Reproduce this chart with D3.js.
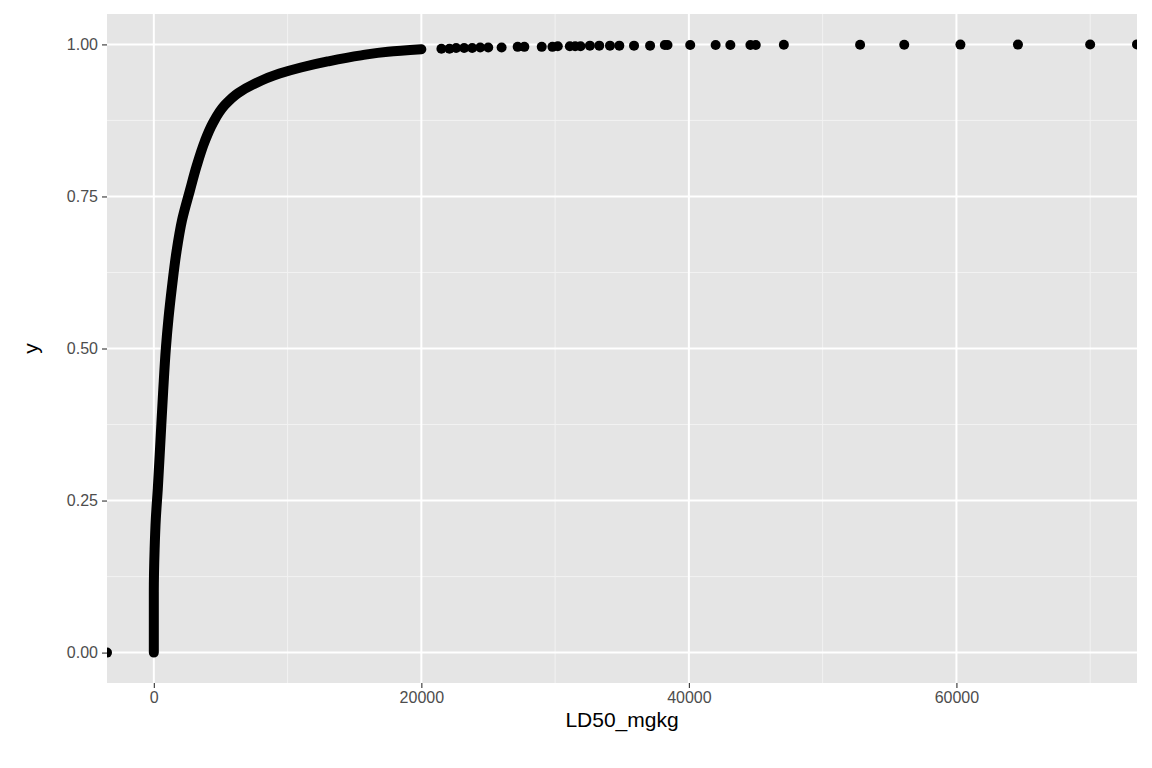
<!DOCTYPE html>
<html><head><meta charset="utf-8">
<script src="https://cdn.jsdelivr.net/npm/d3@7"></script>
<style>body{margin:0;background:#fff}</style></head>
<body><svg id="c" width="1152" height="768"></svg>
<script>
const curveX = [0, 0, 60, 150, 300, 500, 700, 900, 1100, 1350, 1700, 2100, 2700, 3200, 3800, 4400, 5300, 6300, 7500, 9400, 11000, 13000, 15500, 17500, 20000];
const curveY = [0, 0.10, 0.17, 0.22, 0.27, 0.35, 0.43, 0.50, 0.55, 0.60, 0.66, 0.71, 0.76, 0.80, 0.84, 0.87, 0.90, 0.92, 0.935, 0.952, 0.962, 0.972, 0.982, 0.988, 0.992];
// Sparse tail points
const tailX = [-3500, 21500, 22100, 22600, 23200, 23800, 24400, 25000, 26000, 27200, 27700, 29000, 29800, 30200, 31100, 31500, 31900, 32600, 33300, 34100, 34800, 35900, 37100, 38200, 38400, 40100, 42000, 43100, 44600, 45000, 47100, 52800, 56100, 60300, 64600, 70000, 73500];
const tailY = [0, 0.993, 0.993, 0.994, 0.994, 0.994, 0.995, 0.995, 0.995, 0.996, 0.996, 0.996, 0.996, 0.997, 0.997, 0.997, 0.997, 0.998, 0.998, 0.998, 0.998, 0.998, 0.998, 0.999, 0.999, 0.999, 0.999, 0.999, 0.999, 0.999, 0.9995, 0.9995, 0.9995, 0.9997, 0.9997, 0.9999, 1.0];
const xTicks = [0, 20000, 40000, 60000];
const yTicks = [0, 0.25, 0.5, 0.75, 1];
const yLabels = ["0.00", "0.25", "0.50", "0.75", "1.00"];

const svg = d3.select("#c");
const L = 107, R = 1137, T = 14, B = 683;
const x = d3.scaleLinear().domain([-3500, 73500]).range([L, R]);
const y = d3.scaleLinear().domain([-0.05, 1.05]).range([B, T]);
svg.append("rect").attr("x", L).attr("y", T).attr("width", R - L).attr("height", B - T).attr("fill", "#e5e5e5");
const minorX = [10000, 30000, 50000, 70000], minorY = [0.125, 0.375, 0.625, 0.875];
svg.selectAll(".mx").data(minorX).join("line").attr("x1", d => x(d)).attr("x2", d => x(d)).attr("y1", T).attr("y2", B).attr("stroke", "#f2f2f2").attr("stroke-width", 1);
svg.selectAll(".my").data(minorY).join("line").attr("y1", d => y(d)).attr("y2", d => y(d)).attr("x1", L).attr("x2", R).attr("stroke", "#f2f2f2").attr("stroke-width", 1);
svg.selectAll(".gx").data(xTicks).join("line").attr("x1", d => x(d)).attr("x2", d => x(d)).attr("y1", T).attr("y2", B).attr("stroke", "#fff").attr("stroke-width", 2);
svg.selectAll(".gy").data(yTicks).join("line").attr("y1", d => y(d)).attr("y2", d => y(d)).attr("x1", L).attr("x2", R).attr("stroke", "#fff").attr("stroke-width", 2);

const xa = svg.append("g").attr("transform", `translate(0,${B})`).call(d3.axisBottom(x).tickValues(xTicks).tickFormat(d3.format("d")).tickSize(5).tickPadding(4));
const ya = svg.append("g").attr("transform", `translate(${L},0)`).call(d3.axisLeft(y).tickValues(yTicks).tickFormat((d, i) => yLabels[i]).tickSize(5).tickPadding(4));
[xa, ya].forEach(a => {
  a.select(".domain").remove();
  a.selectAll("line").attr("stroke", "#333").attr("stroke-width", 1.1);
  a.selectAll("text").attr("fill", "#4d4d4d").style("font", "16px 'Liberation Sans', Arial, sans-serif");
});
svg.append("text").attr("x", (L + R) / 2).attr("y", 727).attr("text-anchor", "middle").style("font", "21px 'Liberation Sans', Arial, sans-serif").text("LD50_mgkg");
svg.append("text").attr("transform", `translate(38,${(T + B) / 2}) rotate(-90)`).attr("text-anchor", "middle").style("font", "21px 'Liberation Sans', Arial, sans-serif").text("y");

svg.append("clipPath").attr("id", "cp").append("rect").attr("x", L).attr("y", T).attr("width", R - L).attr("height", B - T);
const g = svg.append("g").attr("clip-path", "url(#cp)");
const pts = curveX.map((d, i) => [d, curveY[i]]);
g.append("path").attr("d", d3.line().x(d => x(d[0])).y(d => y(d[1])).curve(d3.curveMonotoneY)(pts))
  .attr("fill", "none").attr("stroke", "#000").attr("stroke-width", 10).attr("stroke-linecap", "round").attr("stroke-linejoin", "round");
g.selectAll(".t").data(tailX).join("circle").attr("cx", d => x(d)).attr("cy", (d, i) => y(tailY[i])).attr("r", 5).attr("fill", "#000");
</script></body></html>
